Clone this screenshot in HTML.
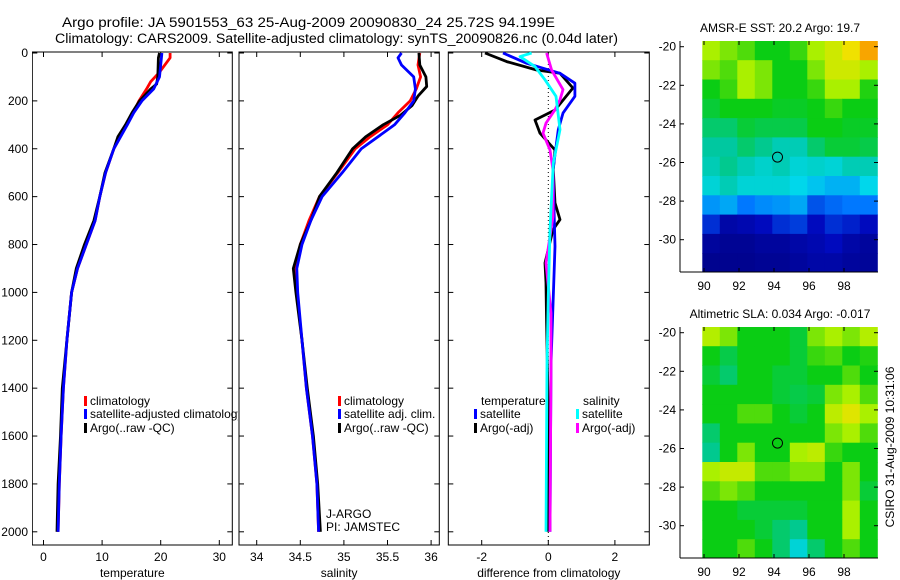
<!DOCTYPE html>
<html><head><meta charset="utf-8"><style>
html,body{margin:0;padding:0;background:#fff;}
svg{display:block;font-family:"Liberation Sans",sans-serif;}
</style></head><body>
<svg id="fig" width="900" height="580" viewBox="0 0 900 580" xmlns="http://www.w3.org/2000/svg">
<text x="62" y="27" font-size="13.5" textLength="493" lengthAdjust="spacingAndGlyphs">Argo profile: JA 5901553_63 25-Aug-2009 20090830_24 25.72S 94.199E</text>
<text x="55" y="43" font-size="13.5" textLength="563" lengthAdjust="spacingAndGlyphs">Climatology: CARS2009. Satellite-adjusted climatology: synTS_20090826.nc (0.04d later)</text>
<g id="plots"></g>
</svg>
<script>
// ---- data ----
const depthTicks = [0,200,400,600,800,1000,1200,1400,1600,1800,2000];
const tempTicks = [0,10,20,30];
const salTicks = [34,34.5,35,35.5,36];
const diffTicks = [-2,0,2];

const tClimDepth = [0,20,40,80,120,150,200,250,300,400,500,600,700,800,900,1000,1200,1400,1600,1800,2000];
const tClim      = [21.6,21.6,21,19.8,18.3,17.6,16.3,15.3,14.2,12,10.6,9.6,8.8,7.3,5.8,4.8,4.0,3.4,3.0,2.7,2.5];
const tSatDepth  = [0,50,100,150,200,250,300,400,500,600,700,800,900,1000,1200,1400,1600,1800,2000];
const tSat       = [20.2,20.0,19.8,18.8,16.8,15.4,14.3,12.0,10.6,9.6,8.8,7.3,5.8,4.8,4.0,3.4,3.0,2.7,2.5];
const tArgoDepth = [0,20,100,130,150,200,250,300,350,400,500,600,700,800,900,1000,1200,1400,1600,1800,2000];
const tArgo      = [19.8,19.6,19.5,19.3,18.3,16.4,15.1,14.0,12.7,12.0,10.5,9.6,8.6,7.0,5.6,4.8,4.0,3.2,2.9,2.5,2.3];

const sClimDepth = [0,50,100,150,200,250,300,350,400,500,600,700,800,900,1000,1200,1400,1600,1800,2000];
const sClim      = [35.87,35.85,35.88,35.83,35.76,35.62,35.5,35.3,35.13,34.93,34.72,34.6,34.5,34.44,34.46,34.52,34.57,34.64,34.69,34.71];
const sSatDepth  = [0,20,50,100,150,200,250,300,400,500,600,700,800,900,1000,1200,1400,1600,1800,2000];
const sSat       = [35.66,35.62,35.66,35.8,35.82,35.8,35.7,35.58,35.2,34.98,34.75,34.62,34.52,34.46,34.47,34.52,34.57,34.64,34.69,34.71];
const sArgoDepth = [0,50,100,140,180,220,260,300,350,400,500,600,700,800,900,1000,1200,1400,1600,1800,2000];
const sArgo      = [35.86,35.87,35.94,35.95,35.85,35.78,35.65,35.45,35.25,35.1,34.92,34.72,34.62,34.5,34.42,34.45,34.52,34.58,34.65,34.7,34.73];

const dTArgoDepth = [0,36,71,85,146,238,280,335,405,488,626,696,738,877,960,1128,1500,2000];
const dTArgo      = [-1.9,-1.25,-0.35,0.35,0.74,0.2,-0.4,-0.25,0.2,0.15,0.2,0.35,0.14,-0.1,-0.07,-0.05,0,-0.02];
const dTSatDepth  = [0,43,85,126,181,251,320,488,808,1295,2000];
const dTSat       = [-1.36,-0.65,0.35,0.8,0.8,0.44,0.3,0.14,0.2,0.08,0.05];
const dSSatDepth  = [0,15,57,112,181,320,460,738,1017,1300,2000];
const dSSat       = [-0.5,-0.85,-0.4,-0.1,0.23,0.35,0.15,0.05,0,-0.04,-0.07];
const dSArgoDepth = [0,71,153,195,237,293,335,405,488,683,877,1087,1300,2000];
const dSArgo      = [-0.05,0.1,0.44,0.35,0.2,-0.07,-0.16,0.05,0.14,0.14,-0.07,0.08,0.08,0.05];

const mapLonTicks = [90,92,94,96,98];
const mapLatTicks = [-20,-22,-24,-26,-28,-30];
const gridLon = [90,91,92,93,94,95,96,97,98,99];
const gridLatTop = [-19.7,-20.7,-21.7,-22.7,-23.7,-24.7,-25.7,-26.7,-27.7,-28.7,-29.7,-30.7];
const sstGrid = [
[0.62,0.6,0.58,0.55,0.55,0.57,0.62,0.66,0.7,0.78],
[0.6,0.58,0.62,0.6,0.55,0.55,0.6,0.66,0.66,0.62],
[0.55,0.57,0.62,0.6,0.55,0.55,0.57,0.62,0.62,0.56],
[0.53,0.55,0.55,0.55,0.54,0.54,0.55,0.57,0.55,0.55],
[0.5,0.5,0.53,0.52,0.52,0.52,0.55,0.55,0.54,0.54],
[0.47,0.47,0.5,0.48,0.45,0.45,0.5,0.53,0.53,0.52],
[0.45,0.48,0.45,0.43,0.45,0.42,0.43,0.42,0.45,0.45],
[0.42,0.45,0.42,0.42,0.42,0.4,0.38,0.36,0.36,0.4],
[0.33,0.35,0.3,0.32,0.33,0.35,0.25,0.28,0.3,0.3],
[0.2,0.1,0.12,0.15,0.2,0.22,0.15,0.2,0.18,0.15],
[0.08,0.06,0.06,0.08,0.08,0.1,0.12,0.15,0.1,0.08],
[0.05,0.05,0.05,0.06,0.06,0.08,0.1,0.1,0.08,0.07]];
const slaGrid = [
[0.63,0.6,0.55,0.55,0.55,0.53,0.6,0.62,0.6,0.63],
[0.55,0.52,0.55,0.55,0.55,0.53,0.57,0.58,0.55,0.56],
[0.53,0.5,0.55,0.55,0.53,0.53,0.55,0.55,0.58,0.55],
[0.55,0.55,0.55,0.55,0.53,0.52,0.53,0.6,0.62,0.58],
[0.55,0.55,0.58,0.58,0.55,0.53,0.55,0.64,0.68,0.62],
[0.5,0.55,0.55,0.55,0.55,0.55,0.55,0.6,0.62,0.58],
[0.48,0.55,0.6,0.55,0.55,0.62,0.64,0.57,0.55,0.55],
[0.62,0.65,0.65,0.58,0.58,0.6,0.6,0.55,0.6,0.55],
[0.58,0.6,0.58,0.55,0.55,0.55,0.55,0.55,0.6,0.53],
[0.55,0.55,0.53,0.53,0.53,0.53,0.55,0.55,0.62,0.55],
[0.55,0.55,0.55,0.53,0.5,0.48,0.55,0.55,0.62,0.55],
[0.55,0.55,0.58,0.55,0.5,0.42,0.5,0.55,0.58,0.55]];
const argoLon = 94.2, argoLat = -25.72;

// ---- drawing ----
const NS = 'http://www.w3.org/2000/svg';
const root = document.getElementById('plots');
function mk(tag, attrs, parent){ const e=document.createElementNS(NS,tag); for(const k in attrs) e.setAttribute(k,attrs[k]); (parent||root).appendChild(e); return e; }
function txt(s, x, y, size, anchor, parent){ const t=mk('text',{x:x,y:y,'font-size':size,'text-anchor':anchor||'start'},parent); t.textContent=s; return t; }

const TOP=52, BOT=545;
const yD = d => 53 + d*0.2394;
const xT = v => 43.5 + 5.86*v;
const xS = v => 256.7 + 87.2*(v-34);
const xDf = v => 548.3 + 33.3*v;

function panel(name, x0, x1, xf, ticks, label, showY){
  const g = mk('g',{});
  
  
  mk('rect',{x:x0,y:TOP,width:x1-x0,height:BOT-TOP,fill:'none',stroke:'#000','stroke-width':1},g);
  depthTicks.forEach(d=>{
    const y=yD(d);
    mk('line',{x1:x0,x2:x0+5,y1:y,y2:y,stroke:'#000'},g);
    mk('line',{x1:x1-5,x2:x1,y1:y,y2:y,stroke:'#000'},g);
  });
  ticks.forEach(v=>{
    const x=xf(v);
    mk('line',{x1:x,x2:x,y1:BOT,y2:BOT-5,stroke:'#000'},g);
    mk('line',{x1:x,x2:x,y1:TOP,y2:TOP+5,stroke:'#000'},g);
    const t=txt(String(v),x,BOT+16,12,'middle',g);
     
  });
  const l=txt(label,(x0+x1)/2,BOT+32,12,'middle',g);
   
  return g;
}
function line(name, depths, vals, xf, color, parent){
  const pts = depths.map((d,i)=>xf(vals[i]).toFixed(1)+','+yD(d).toFixed(1)).join(' ');
  const p = mk('polyline',{points:pts,fill:'none',stroke:color,'stroke-width':2.8,'stroke-linejoin':'round'},parent);
  
  
}
function legendEntry(name, x, y, color, label, parent){
  const g=mk('g',{},parent);
  
  
  mk('rect',{x:x,y:y-9,width:3,height:10,fill:color},g);
  txt(label,x+6,y,12,'start',g);
}

const p1 = panel('temperature-panel',32.3,232.3,xT,tempTicks,'temperature',true);
line('temp-climatology-line',tClimDepth,tClim,xT,'#f00',p1);
line('temp-argo-line',tArgoDepth,tArgo,xT,'#000',p1);
line('temp-satellite-line',tSatDepth,tSat,xT,'#00f',p1);
legendEntry('legend-climatology',84,405,'#f00','climatology',p1);
legendEntry('legend-satellite-adjusted',84,418,'#00f','satellite-adjusted climatology',p1);
legendEntry('legend-argo',84,432,'#000','Argo(..raw -QC)',p1);

const p2 = panel('salinity-panel',239,439.3,xS,salTicks,'salinity',false);
line('sal-climatology-line',sClimDepth,sClim,xS,'#f00',p2);
line('sal-argo-line',sArgoDepth,sArgo,xS,'#000',p2);
line('sal-satellite-line',sSatDepth,sSat,xS,'#00f',p2);
legendEntry('legend-climatology',338,405,'#f00','climatology',p2);
legendEntry('legend-satellite-adj',338,418,'#00f','satellite adj. clim.',p2);
legendEntry('legend-argo',338,432,'#000','Argo(..raw -QC)',p2);
const ja=txt('J-ARGO',326,518,12,'start',p2);  
const pi=txt('PI: JAMSTEC',326,531,12,'start',p2);  

const clip = mk('clipPath',{id:'c1'}); mk('rect',{x:32,y:0,width:206,height:580},clip);
p1.setAttribute('clip-path','url(#c1)');
depthTicks.forEach(d=>{ const t=txt(String(d),28,yD(d)+4,12,'end');
    });

const p3 = panel('difference-panel',448.3,649.3,xDf,diffTicks,'difference from climatology',false);
mk('line',{x1:xDf(0),x2:xDf(0),y1:TOP,y2:BOT,stroke:'#000','stroke-dasharray':'1,3'},p3);
line('diff-temp-argo-line',dTArgoDepth,dTArgo,xDf,'#000',p3);
line('diff-temp-satellite-line',dTSatDepth,dTSat,xDf,'#00f',p3);
line('diff-sal-argo-line',dSArgoDepth,dSArgo,xDf,'#f0f',p3);
line('diff-sal-satellite-line',dSSatDepth,dSSat,xDf,'#0ff',p3);
const lt=txt('temperature',481,405,12,'start',p3);  
const ls=txt('salinity',583,405,12,'start',p3);  
legendEntry('legend-temp-satellite',474,418,'#00f','satellite',p3);
legendEntry('legend-temp-argo',474,432,'#000','Argo(-adj)',p3);
legendEntry('legend-sal-satellite',576,418,'#0ff','satellite',p3);
legendEntry('legend-sal-argo',576,432,'#f0f','Argo(-adj)',p3);

// maps
const cStops = [[0,[0,0,120]],[0.15,[0,10,190]],[0.3,[0,120,255]],[0.4,[0,215,235]],[0.47,[0,200,160]],[0.55,[10,205,20]],[0.62,[170,240,0]],[0.7,[240,225,0]],[0.8,[250,150,0]],[1,[200,40,0]]];
function cmap(v){
  v=Math.max(0,Math.min(1,v));
  for(let i=1;i<cStops.length;i++){
    if(v<=cStops[i][0]){
      const a=cStops[i-1], b=cStops[i], f=(v-a[0])/(b[0]-a[0]);
      return 'rgb('+a[1].map((c,k)=>Math.round(c+(b[1][k]-c)*f)).join(',')+')';
    }
  }
  return 'rgb(200,40,0)';
}
function mapPanel(name, top, grid, title){
  const g=mk('g',{});
  
  
  const xL = lon => 704 + 17.5*(lon-90);
  const yL = lat => top + 5.7 + (-20-lat)*19.3;
  const bottom = top + 231;
  grid.forEach((row,i)=>row.forEach((v,j)=>{
    const x0=xL(gridLon[j]-0.1), x1=Math.min(878,xL(gridLon[j]+0.9));
    const y0=Math.max(top,yL(gridLatTop[i])), y1=Math.min(bottom,yL(gridLatTop[i]-1));
    const r=mk('rect',{x:x0.toFixed(1),y:y0.toFixed(1),width:(x1-x0+0.5).toFixed(1),height:(y1-y0+0.5).toFixed(1),fill:cmap(v)},g);
    
    
  }));
  mk('line',{x1:680,x2:680,y1:top,y2:bottom,stroke:'#000'},g);
  mk('line',{x1:680,x2:878,y1:bottom,y2:bottom,stroke:'#000'},g);
  mapLatTicks.forEach(l=>{ const y=yL(l);
    mk('line',{x1:680,x2:684,y1:y,y2:y,stroke:'#000'},g);
    mk('line',{x1:874,x2:878,y1:y,y2:y,stroke:'#000'},g);
    const t=txt(String(l),676,y+4,12,'end',g);   });
  mapLonTicks.forEach(l=>{ const x=xL(l);
    mk('line',{x1:x,x2:x,y1:bottom,y2:bottom-4,stroke:'#000'},g);
    mk('line',{x1:x,x2:x,y1:top,y2:top+4,stroke:'#000'},g);
    const t=txt(String(l),x,bottom+18,12,'middle',g);   });
  const c=mk('circle',{cx:xL(argoLon),cy:yL(argoLat),r:5,fill:'none',stroke:'#000','stroke-width':1},g);
  
  
  const t=txt(title,780,top-9,12,'middle',g);  
}
mapPanel('sst-map',41,sstGrid,'AMSR-E SST: 20.2 Argo: 19.7');
mapPanel('sla-map',327,slaGrid,'Altimetric SLA: 0.034 Argo: -0.017');

const cs=txt('CSIRO 31-Aug-2009 10:31:06',0,0,12,'middle');
cs.setAttribute('transform','translate(894,447) rotate(-90)');


</script>
</body></html>
